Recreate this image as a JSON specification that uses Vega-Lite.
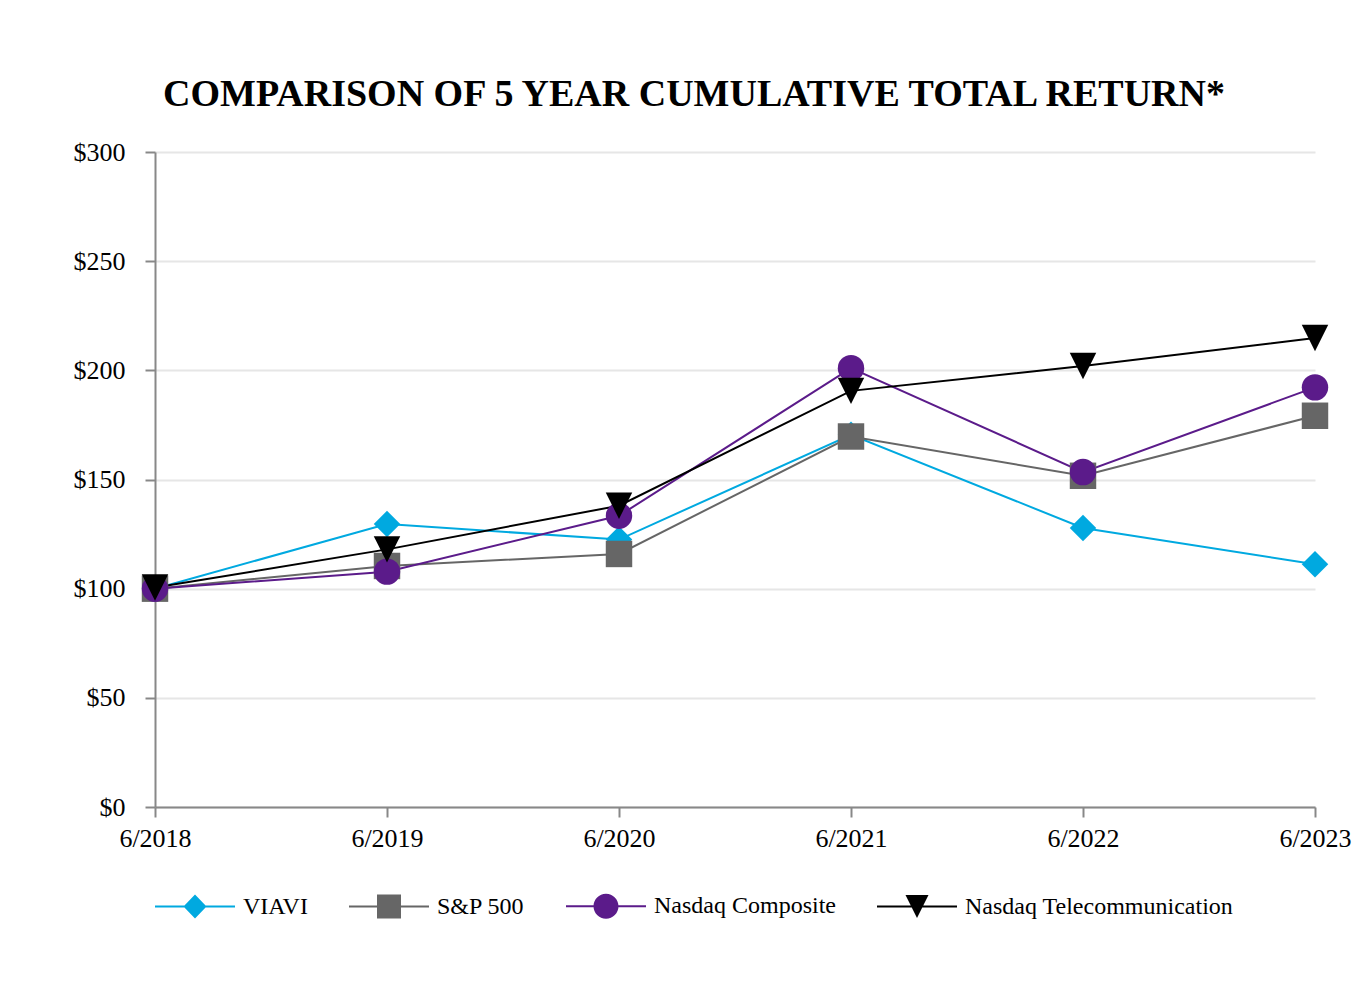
{
  "$schema": "https://vega.github.io/schema/vega-lite/v6.json",
  "width": 1160,
  "height": 655,
  "autosize": {"type": "none"},
  "padding": {"left": 155, "top": 152, "right": 51, "bottom": 177},
  "background": "white",
  "title": {
    "text": "COMPARISON OF 5 YEAR CUMULATIVE TOTAL RETURN*",
    "font": "Liberation Serif",
    "fontSize": 38,
    "fontWeight": "bold",
    "color": "black",
    "anchor": "middle",
    "dx": -41,
    "offset": -5,
    "baseline": "alphabetic"
  },
  "data": {
    "values": [
      {"date": "6/2018", "series": "VIAVI", "value": 100},
      {"date": "6/2019", "series": "VIAVI", "value": 129.6},
      {"date": "6/2020", "series": "VIAVI", "value": 122.5},
      {"date": "6/2021", "series": "VIAVI", "value": 170.5},
      {"date": "6/2022", "series": "VIAVI", "value": 127.8},
      {"date": "6/2023", "series": "VIAVI", "value": 111.2},
      {"date": "6/2018", "series": "S&P 500", "value": 100},
      {"date": "6/2019", "series": "S&P 500", "value": 110.4},
      {"date": "6/2020", "series": "S&P 500", "value": 115.9},
      {"date": "6/2021", "series": "S&P 500", "value": 169.7},
      {"date": "6/2022", "series": "S&P 500", "value": 151.7},
      {"date": "6/2023", "series": "S&P 500", "value": 179.2},
      {"date": "6/2018", "series": "Nasdaq Composite", "value": 100},
      {"date": "6/2019", "series": "Nasdaq Composite", "value": 107.8},
      {"date": "6/2020", "series": "Nasdaq Composite", "value": 133.4},
      {"date": "6/2021", "series": "Nasdaq Composite", "value": 201.0},
      {"date": "6/2022", "series": "Nasdaq Composite", "value": 153.4},
      {"date": "6/2023", "series": "Nasdaq Composite", "value": 192.2},
      {"date": "6/2018", "series": "Nasdaq Telecommunication", "value": 100.5},
      {"date": "6/2019", "series": "Nasdaq Telecommunication", "value": 118.0},
      {"date": "6/2020", "series": "Nasdaq Telecommunication", "value": 138.0},
      {"date": "6/2021", "series": "Nasdaq Telecommunication", "value": 190.6},
      {"date": "6/2022", "series": "Nasdaq Telecommunication", "value": 202.0},
      {"date": "6/2023", "series": "Nasdaq Telecommunication", "value": 214.8}
    ]
  },
  "encoding": {
    "x": {
      "field": "date",
      "type": "ordinal",
      "sort": ["6/2018", "6/2019", "6/2020", "6/2021", "6/2022", "6/2023"],
      "scale": {"type": "point", "padding": 0},
      "axis": {"title": null, "labelAngle": 0, "grid": false, "labelPadding": 8}
    },
    "y": {
      "field": "value",
      "type": "quantitative",
      "scale": {"domain": [0, 300], "nice": false, "zero": true},
      "axis": {"title": null, "values": [0, 50, 100, 150, 200, 250, 300], "format": "$.0f", "grid": true, "labelPadding": 20}
    },
    "color": {
      "field": "series",
      "type": "nominal",
      "scale": {
        "domain": ["VIAVI", "S&P 500", "Nasdaq Composite", "Nasdaq Telecommunication"],
        "range": ["#00a9e0", "#666666", "#5b1b8a", "#000000"]
      },
      "legend": {
        "title": null,
        "orient": "none",
        "direction": "horizontal",
        "columns": 4,
        "legendX": 0,
        "legendY": 742,
        "padding": 0,
        "symbolSize": 400,
        "symbolOffset": 28,
        "labelOffset": 36,
        "columnPadding": 41,
        "labelFont": "Liberation Serif",
        "labelFontSize": 24,
        "labelColor": "black",
        "labelLimit": 400,
        "encode": {
          "symbols": {
            "update": {
              "shape": {"signal": "datum.value === 'VIAVI' ? 'M-4,-0.1H4V0.1H-4Z M-1.15,0L0,-1.2L1.15,0L0,1.2Z' : datum.value === 'S&P 500' ? 'M-4,-0.1H4V0.1H-4Z M-1.2,-1.2H1.2V1.2H-1.2Z' : datum.value === 'Nasdaq Composite' ? 'M-4,-0.1H4V0.1H-4Z M-1.25,0A1.25,1.25 0 1,1 1.25,0A1.25,1.25 0 1,1 -1.25,0Z' : 'M-4,-0.1H4V0.1H-4Z M-1.15,-1.15L1.15,-1.15L0,1.15Z'"},
              "fill": {"scale": "color", "field": "value"},
              "strokeWidth": {"value": 0},
              "opacity": {"value": 1}
            }
          }
        }
      }
    }
  },
  "layer": [
    {"mark": {"type": "line", "strokeWidth": 2}},
    {
      "transform": [{"filter": {"field": "series", "equal": "VIAVI"}}],
      "mark": {"type": "point", "shape": "diamond", "filled": true, "opacity": 1, "size": 700}
    },
    {
      "transform": [{"filter": {"field": "series", "equal": "S&P 500"}}],
      "mark": {"type": "point", "shape": "square", "filled": true, "opacity": 1, "size": 700}
    },
    {
      "transform": [{"filter": {"field": "series", "equal": "Nasdaq Composite"}}],
      "mark": {"type": "point", "shape": "circle", "filled": true, "opacity": 1, "size": 700}
    },
    {
      "transform": [{"filter": {"field": "series", "equal": "Nasdaq Telecommunication"}}],
      "mark": {"type": "point", "shape": "M-1,-1L1,-1L0,1Z", "filled": true, "opacity": 1, "size": 700}
    }
  ],
  "config": {
    "view": {"stroke": null},
    "axis": {
      "labelFont": "Liberation Serif",
      "labelFontSize": 26,
      "labelColor": "black",
      "domainColor": "#888888",
      "domainWidth": 2,
      "tickColor": "#888888",
      "tickWidth": 2,
      "tickSize": 10,
      "gridColor": "#e6e6e6",
      "gridWidth": 2
    }
  }
}
